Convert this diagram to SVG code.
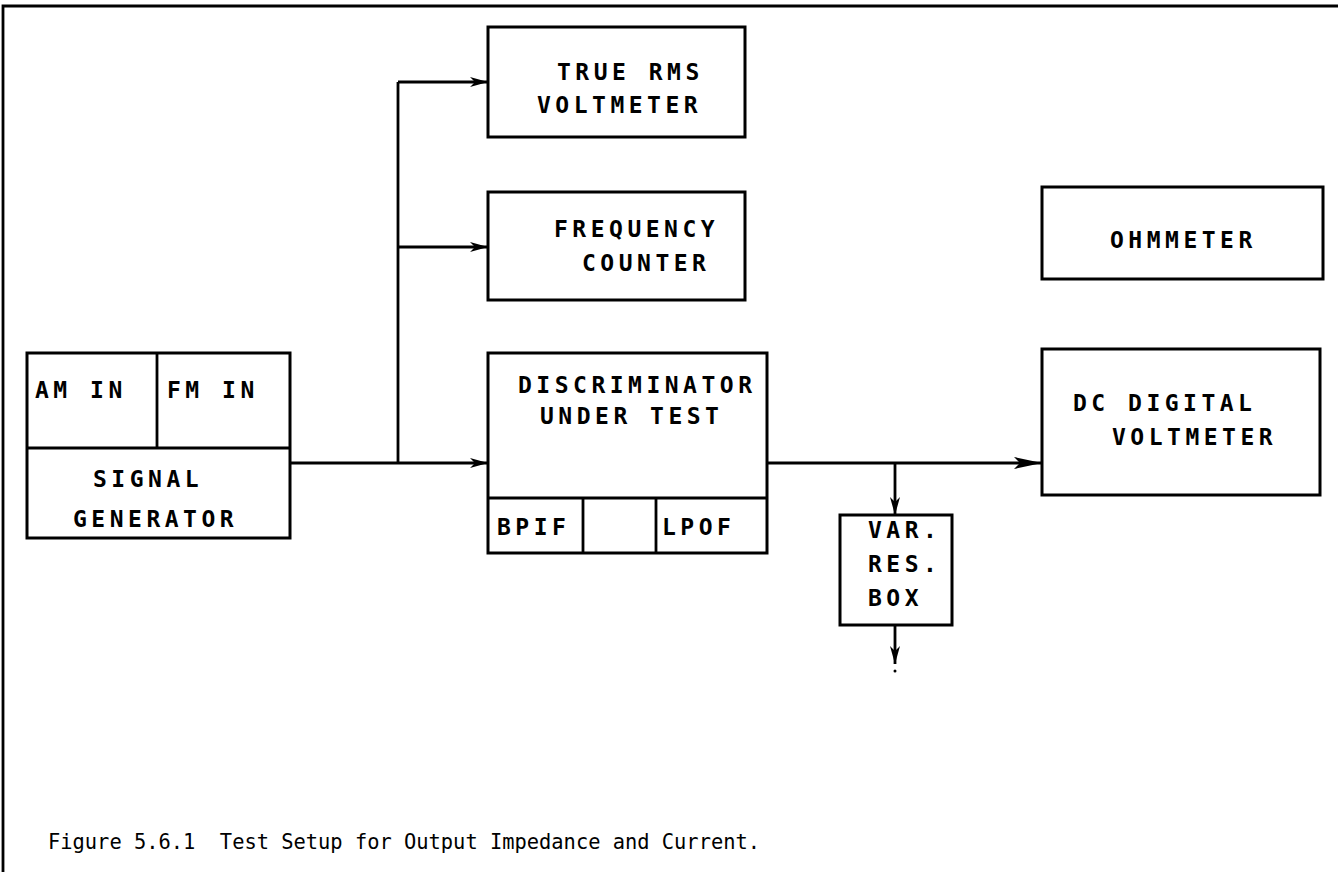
<svg xmlns="http://www.w3.org/2000/svg" width="1338" height="872" viewBox="0 0 1338 872">
<style>
.box{fill:none;stroke:#000;stroke-width:3}
.ln{fill:none;stroke:#000;stroke-width:2.8}
.lbl{font-family:"DejaVu Sans Mono","Liberation Mono",monospace;font-weight:bold;font-size:23px;letter-spacing:4.5px;fill:#000}
.cap{font-family:"DejaVu Sans Mono","Liberation Mono",monospace;font-size:20.4px;fill:#000}
</style>
<defs>
<marker id="arr" markerUnits="userSpaceOnUse" markerWidth="20" markerHeight="12" refX="18" refY="6" orient="auto">
<path d="M0,1 L18,6 L0,11 L5,6 z" fill="#000"/>
</marker>
<marker id="arrL" markerUnits="userSpaceOnUse" markerWidth="30" markerHeight="14" refX="28" refY="7" orient="auto">
<path d="M0,1 L28,7 L0,13 L6,7 z" fill="#000"/>
</marker>
</defs>
<rect width="1338" height="872" fill="#fff"/>
<g id="frame">
<path class="ln" d="M3,872 V6 H1338" stroke-width="3.5"/>
</g>
<g id="connectors">
<path class="ln" d="M290,463 H488" marker-end="url(#arr)"/>
<path class="ln" d="M398,463 V82"/>
<path class="ln" d="M398,82 H488" marker-end="url(#arr)"/>
<path class="ln" d="M398,247 H488" marker-end="url(#arr)"/>
<path class="ln" d="M767,463 H1042" marker-end="url(#arrL)"/>
<path class="ln" d="M895,463 V515" marker-end="url(#arr)"/>
<path class="ln" d="M895,625 V664" marker-end="url(#arr)"/>
<circle cx="895" cy="671" r="1.5" fill="#000"/>
</g>
<g id="signal-generator">
<rect class="box" x="27" y="353" width="263" height="185"/>
<path class="ln" d="M27,448 H290 M157,353 V448"/>
<text class="lbl" x="35" y="398">AM IN</text>
<text class="lbl" x="167" y="398">FM IN</text>
<text class="lbl" x="93" y="487">SIGNAL</text>
<text class="lbl" x="73" y="527">GENERATOR</text>
</g>
<g id="true-rms-voltmeter">
<rect class="box" x="488" y="27" width="257" height="110"/>
<text class="lbl" x="557" y="80">TRUE RMS</text>
<text class="lbl" x="537" y="113">VOLTMETER</text>
</g>
<g id="frequency-counter">
<rect class="box" x="488" y="192" width="257" height="108"/>
<text class="lbl" x="554" y="237">FREQUENCY</text>
<text class="lbl" x="582" y="271">COUNTER</text>
</g>
<g id="discriminator">
<rect class="box" x="488" y="353" width="279" height="200"/>
<path class="ln" d="M488,498 H767 M583,498 V553 M656,498 V553"/>
<text class="lbl" x="518" y="393">DISCRIMINATOR</text>
<text class="lbl" x="540" y="424">UNDER TEST</text>
<text class="lbl" x="497" y="535">BPIF</text>
<text class="lbl" x="662" y="535">LPOF</text>
</g>
<g id="ohmmeter">
<rect class="box" x="1042" y="187" width="281" height="92"/>
<text class="lbl" x="1110" y="248">OHMMETER</text>
</g>
<g id="dc-digital-voltmeter">
<rect class="box" x="1042" y="349" width="278" height="146"/>
<text class="lbl" x="1073" y="411">DC DIGITAL</text>
<text class="lbl" x="1112" y="445">VOLTMETER</text>
</g>
<g id="var-res-box">
<rect class="box" x="840" y="515" width="112" height="110"/>
<text class="lbl" x="868" y="538">VAR.</text>
<text class="lbl" x="868" y="572">RES.</text>
<text class="lbl" x="868" y="606">BOX</text>
</g>
<text class="cap" x="48" y="849" xml:space="preserve">Figure 5.6.1  Test Setup for Output Impedance and Current.</text>
</svg>
